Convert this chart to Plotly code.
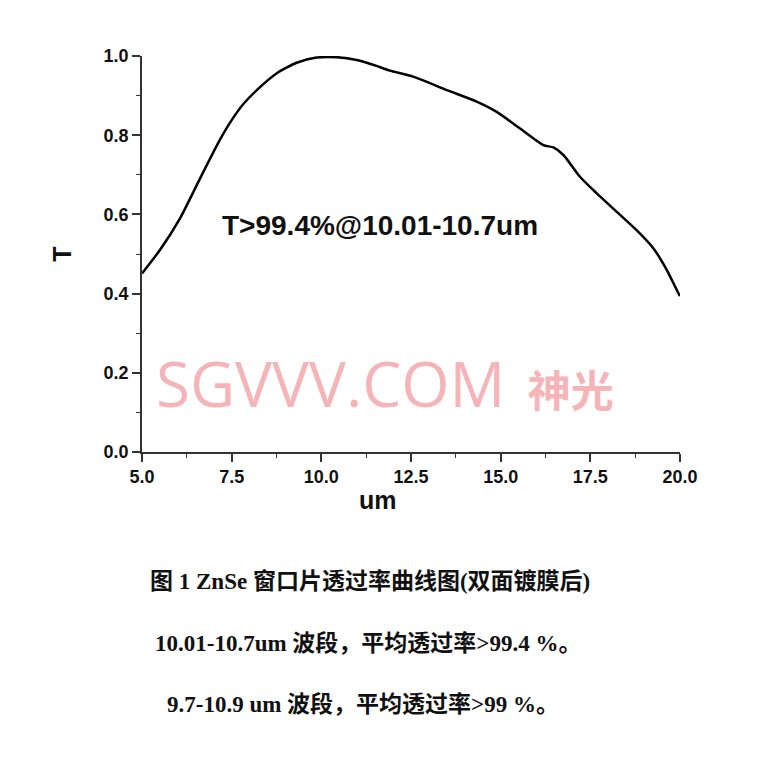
import plotly.graph_objects as go

# Wavelength (um) and transmittance T
wavelength = [5.0, 5.5, 6.06, 6.62, 7.17, 7.5, 7.82, 8.2, 8.75, 9.31, 9.87,
              10.43, 10.99, 11.54, 11.91, 12.56, 13.5, 14.33, 14.89, 15.54, 16.19,
              16.47, 16.75, 17.21, 17.68, 18.23, 18.79, 19.26, 19.63, 19.96, 20.0]
transmittance = [0.451, 0.51, 0.59, 0.691, 0.788, 0.838, 0.878, 0.914, 0.956,
                 0.983, 0.996, 0.997, 0.99, 0.975, 0.963, 0.948, 0.914, 0.885, 0.859,
                 0.817, 0.775, 0.769, 0.75, 0.695, 0.653, 0.607, 0.56, 0.514, 0.46,
                 0.4, 0.394]

x_ticks = [5.0, 7.5, 10.0, 12.5, 15.0, 17.5, 20.0]
y_ticks = [0.0, 0.2, 0.4, 0.6, 0.8, 1.0]

annotation_text = "T>99.4%@10.01-10.7um"
watermark_latin = "SGVVV.COM"
watermark_cjk = "神光"
caption_lines = [
    "图 1 ZnSe 窗口片透过率曲线图(双面镀膜后)",
    "10.01-10.7um 波段，平均透过率>99.4 %。",
    "9.7-10.9 um 波段，平均透过率>99 %。",
]

fig = go.Figure()
fig.add_trace(go.Scatter(x=wavelength, y=transmittance, mode="lines",
                         line=dict(color="black", width=2.5, shape="spline", smoothing=0.6),
                         showlegend=False, hoverinfo="skip"))

axis_font = dict(family="Liberation Sans, Arial", size=18, color="#111", weight="bold")
fig.update_xaxes(range=[5, 20], tickvals=x_ticks, tickformat=".1f",
                 showgrid=False, zeroline=False, showline=True, linecolor="#333",
                 linewidth=1.5, ticks="outside", ticklen=8, tickwidth=1.5, tickcolor="#333",
                 tickfont=axis_font,
                 minor=dict(ticks="outside", ticklen=4, tickwidth=1.2, tickcolor="#333", dtick=1.25))
fig.update_yaxes(range=[0, 1.0], tickvals=y_ticks, tickformat=".1f",
                 showgrid=False, zeroline=False, showline=True, linecolor="#333",
                 linewidth=1.5, ticks="outside", ticklen=8, tickwidth=1.5, tickcolor="#333",
                 tickfont=axis_font,
                 minor=dict(ticks="outside", ticklen=4, tickwidth=1.2, tickcolor="#333", dtick=0.1))

bold = "Liberation Sans, Arial"
common = dict(showarrow=False, xanchor="center", yanchor="middle")
anns = [
    dict(x=11.63, y=0.571, xref="x", yref="y", text="<b>%s</b>" % annotation_text,
         font=dict(family=bold, size=28, color="#111"), **common),
    dict(x=0.439, y=-0.121, xref="paper", yref="paper", text="<b>um</b>",
         font=dict(family=bold, size=25, color="#111"), **common),
    dict(x=-0.149, y=0.5, xref="paper", yref="paper", text="<b>T</b>", textangle=-90,
         font=dict(family=bold, size=25, color="#111"), **common),
    dict(x=0.452, y=0.174, xref="paper", yref="paper",
         text=watermark_latin + '<span style="font-size:43px;font-weight:bold">&nbsp;&nbsp;' + watermark_cjk + '</span>',
         font=dict(family="Open Sans, Noto Sans CJK SC", size=62, color="#f5b5b8"), **common),
]
cap_pos = [(0.424, -0.328), (0.42, -0.482), (0.411, -0.636)]
for (cx, cy), line in zip(cap_pos, caption_lines):
    anns.append(dict(x=cx, y=cy, xref="paper", yref="paper", text="<b>%s</b>" % line,
                     font=dict(family="Liberation Serif, Noto Sans CJK SC", size=23, color="#111"),
                     **common))
fig.update_layout(annotations=anns, width=760, height=760,
                  margin=dict(l=134, r=88, t=48, b=316),
                  paper_bgcolor="white", plot_bgcolor="white")

fig.write_html("out.html")
